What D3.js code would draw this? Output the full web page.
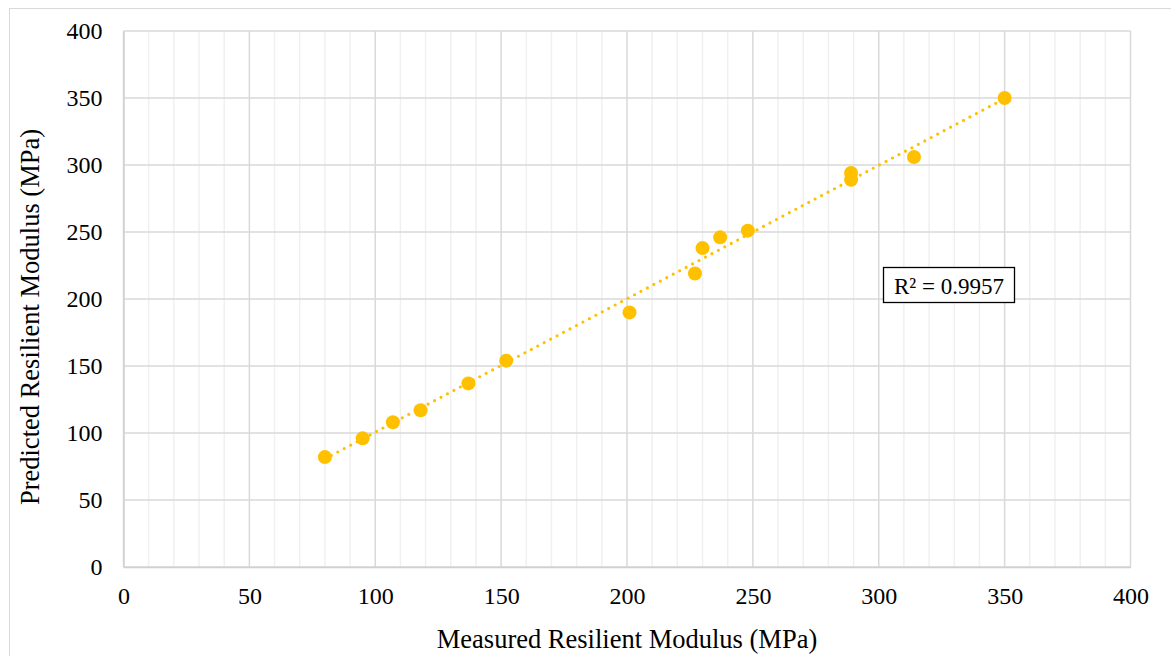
<!DOCTYPE html>
<html>
<head>
<meta charset="utf-8">
<script src="https://cdn.jsdelivr.net/npm/d3@7"></script>
<style>
  body { margin: 0; background: #fff; }
  text { font-family: "Liberation Serif", "Times New Roman", serif; fill: #000; }
</style>
</head>
<body>
<script>
// measured vs predicted resilient modulus (MPa)
const measured = [80, 95, 107, 118, 137, 152, 201, 227, 230, 237, 248, 289, 289, 314, 350];
const predicted = [82, 96, 108, 117, 137, 154, 190, 219, 238, 246, 251, 289, 294, 306, 350];
const majorTicks = [0, 50, 100, 150, 200, 250, 300, 350, 400];
const minorTicks = d3.range(0, 401, 10);
const r2Label = "R² = 0.9957";

const width = 1171, height = 656;
const margin = { left: 123.5, top: 31, right: 1130.5, bottom: 567 };
const pointColor = "#FFC000";

const svg = d3.select("body").append("svg")
  .attr("width", width)
  .attr("height", height);

// outer chart frame (runs off the picture on right/bottom)
svg.append("rect")
  .attr("x", 9.5).attr("y", 8.5)
  .attr("width", 1200).attr("height", 700)
  .attr("fill", "none")
  .attr("stroke", "#d9d9d9");

const x = d3.scaleLinear().domain([0, 400]).range([margin.left, margin.right]);
const y = d3.scaleLinear().domain([0, 400]).range([margin.bottom, margin.top]);

const grid = svg.append("g");

// minor vertical grid
grid.selectAll(".minor")
  .data(minorTicks.filter((d) => d % 50 !== 0))
  .enter().append("line")
  .attr("x1", (d) => x(d)).attr("x2", (d) => x(d))
  .attr("y1", y(0)).attr("y2", y(400))
  .attr("stroke", "#f0f0f0").attr("stroke-width", 1.5);

// major grid
grid.selectAll(".vmaj")
  .data(majorTicks)
  .enter().append("line")
  .attr("x1", (d) => x(d)).attr("x2", (d) => x(d))
  .attr("y1", y(0)).attr("y2", y(400))
  .attr("stroke", "#d9d9d9").attr("stroke-width", 1.5);

grid.selectAll(".hmaj")
  .data(majorTicks)
  .enter().append("line")
  .attr("x1", x(0)).attr("x2", x(400))
  .attr("y1", (d) => y(d)).attr("y2", (d) => y(d))
  .attr("stroke", "#d9d9d9").attr("stroke-width", 1.5);

// axes
const xAxis = svg.append("g")
  .attr("transform", `translate(0,${y(0)})`)
  .call(d3.axisBottom(x).tickValues(majorTicks).tickSize(0).tickPadding(0));
xAxis.select(".domain").attr("stroke", "#d0d0d0").attr("stroke-width", 1.5);
xAxis.selectAll("text").attr("font-size", "24px").attr("dy", "37px")
  .style("font-family", "'Liberation Serif', serif");

const yAxis = svg.append("g")
  .attr("transform", `translate(${x(0)},0)`)
  .call(d3.axisLeft(y).tickValues(majorTicks).tickSize(0).tickPadding(21));
yAxis.select(".domain").attr("stroke", "#d0d0d0").attr("stroke-width", 1.5);
yAxis.selectAll("text").attr("font-size", "24px").attr("dy", "0.33em")
  .style("font-family", "'Liberation Serif', serif");

// linear trendline (least squares)
const mx = d3.mean(measured), my = d3.mean(predicted);
const slope = d3.sum(measured, (v, i) => (v - mx) * (predicted[i] - my)) /
  d3.sum(measured, (v) => (v - mx) ** 2);
const intercept = my - slope * mx;
const xExt = d3.extent(measured);

svg.append("line")
  .attr("x1", x(xExt[0])).attr("y1", y(slope * xExt[0] + intercept))
  .attr("x2", x(xExt[1])).attr("y2", y(slope * xExt[1] + intercept))
  .attr("stroke", pointColor)
  .attr("stroke-width", 3.2)
  .attr("stroke-linecap", "round")
  .attr("stroke-dasharray", "0 7.3");

// points
svg.append("g").selectAll("circle")
  .data(measured)
  .enter().append("circle")
  .attr("cx", (d) => x(d))
  .attr("cy", (d, i) => y(predicted[i]))
  .attr("r", 7)
  .attr("fill", pointColor);

// R² label box
const r2 = svg.append("g").attr("transform", "translate(883.5,267.5)");
r2.append("rect")
  .attr("width", 131).attr("height", 35)
  .attr("fill", "#fff").attr("stroke", "#000").attr("stroke-width", 1.3);
r2.append("text")
  .attr("x", 65.5).attr("y", 26)
  .attr("text-anchor", "middle")
  .attr("font-size", "23px")
  .text(r2Label);

// axis titles
svg.append("text")
  .attr("x", (margin.left + margin.right) / 2)
  .attr("y", 648)
  .attr("text-anchor", "middle")
  .attr("font-size", "26.5px")
  .text("Measured Resilient Modulus (MPa)");

svg.append("text")
  .attr("transform", "translate(39,317) rotate(-90)")
  .attr("text-anchor", "middle")
  .attr("font-size", "26.5px")
  .text("Predicted Resilient Modulus (MPa)");
</script>
</body>
</html>
